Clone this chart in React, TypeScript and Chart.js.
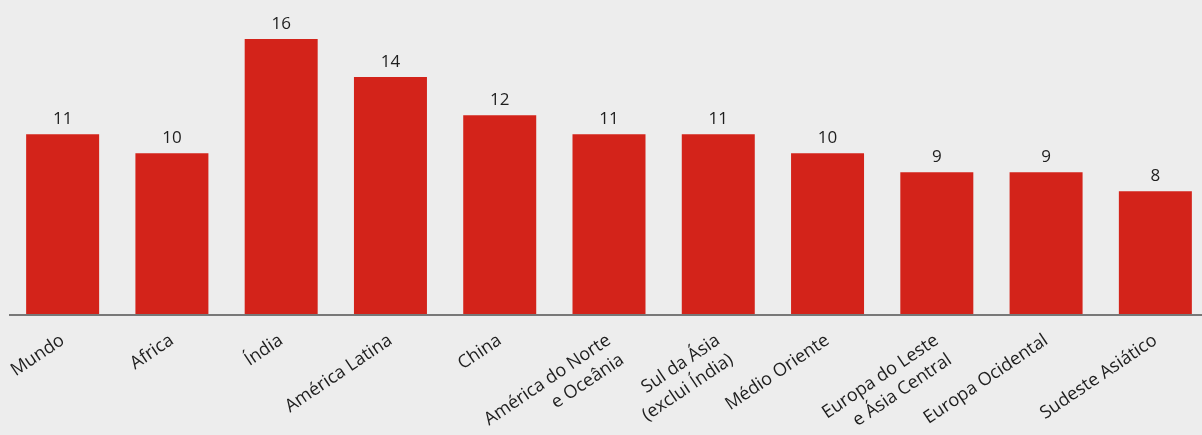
import React, { useEffect, useRef } from "react";
import { Chart, registerables } from "chart.js";

Chart.register(...registerables);

const categories: (string | string[])[] = [
  "Mundo",
  "Africa",
  "Índia",
  "América Latina",
  "China",
  ["América do Norte", "e Oceânia"],
  ["Sul da Ásia", "(exclui Índia)"],
  "Médio Oriente",
  ["Europa do Leste", "e Ásia Central"],
  "Europa Ocidental",
  "Sudeste Asiático",
];
const values = [11, 10, 16, 14, 12, 11, 11, 10, 9, 9, 8];

const FONT = "'Open Sans', 'Noto Sans', sans-serif";
const BAR = "#d3231a";
const BG = "#ededed";
const TEXT = "#1e1e1e";

const valueLabels = {
  id: "valueLabels",
  afterDatasetsDraw(chart: any) {
    const ctx = chart.ctx;
    const meta = chart.getDatasetMeta(0);
    ctx.save();
    ctx.font = `17px ${FONT}`;
    ctx.fillStyle = TEXT;
    ctx.textAlign = "center";
    ctx.textBaseline = "alphabetic";
    meta.data.forEach((el: any, i: number) => {
      ctx.fillText(String(values[i]), el.x, el.y - 10);
    });
    // baseline axis line
    const y = chart.chartArea.bottom;
    ctx.strokeStyle = "#787878";
    ctx.lineWidth = 2;
    ctx.beginPath();
    ctx.moveTo(9, y);
    ctx.lineTo(chart.width, y);
    ctx.stroke();
    ctx.restore();
  },
};

export default function App() {
  const ref = useRef<HTMLCanvasElement>(null);
  useEffect(() => {
    if (!ref.current) return;
    const chart = new Chart(ref.current, {
      type: "bar",
      data: {
        labels: categories,
        datasets: [
          {
            data: values,
            backgroundColor: BAR,
            barPercentage: 0.668,
            categoryPercentage: 1,
          },
        ],
      },
      options: {
        animation: false,
        responsive: false,
        maintainAspectRatio: false,
        layout: { padding: { left: 8, top: 1, right: 0, bottom: 0 } },
        plugins: { legend: { display: false }, tooltip: { enabled: false } },
        scales: {
          x: {
            grid: { display: false, drawTicks: false },
            border: { display: false },
            ticks: {
              autoSkip: false,
              minRotation: 34,
              maxRotation: 34,
              padding: 14,
              color: TEXT,
              font: { family: FONT, size: 18, lineHeight: 1.3 },
            },
            afterFit: (scale: any) => {
              scale.height = 120;
              scale.paddingLeft = 0;
              scale.paddingRight = 0;
            },
          },
          y: {
            display: false,
            min: 1.5,
            max: 18,
          },
        },
      },
      plugins: [valueLabels],
    });
    return () => chart.destroy();
  }, []);
  return (
    <div
      style={{
        position: "fixed",
        left: 0,
        top: 0,
        width: 1202,
        height: 435,
        overflow: "hidden",
        background: BG,
      }}
    >
      <canvas ref={ref} width={1210} height={435} style={{ display: "block" }} />
    </div>
  );
}
